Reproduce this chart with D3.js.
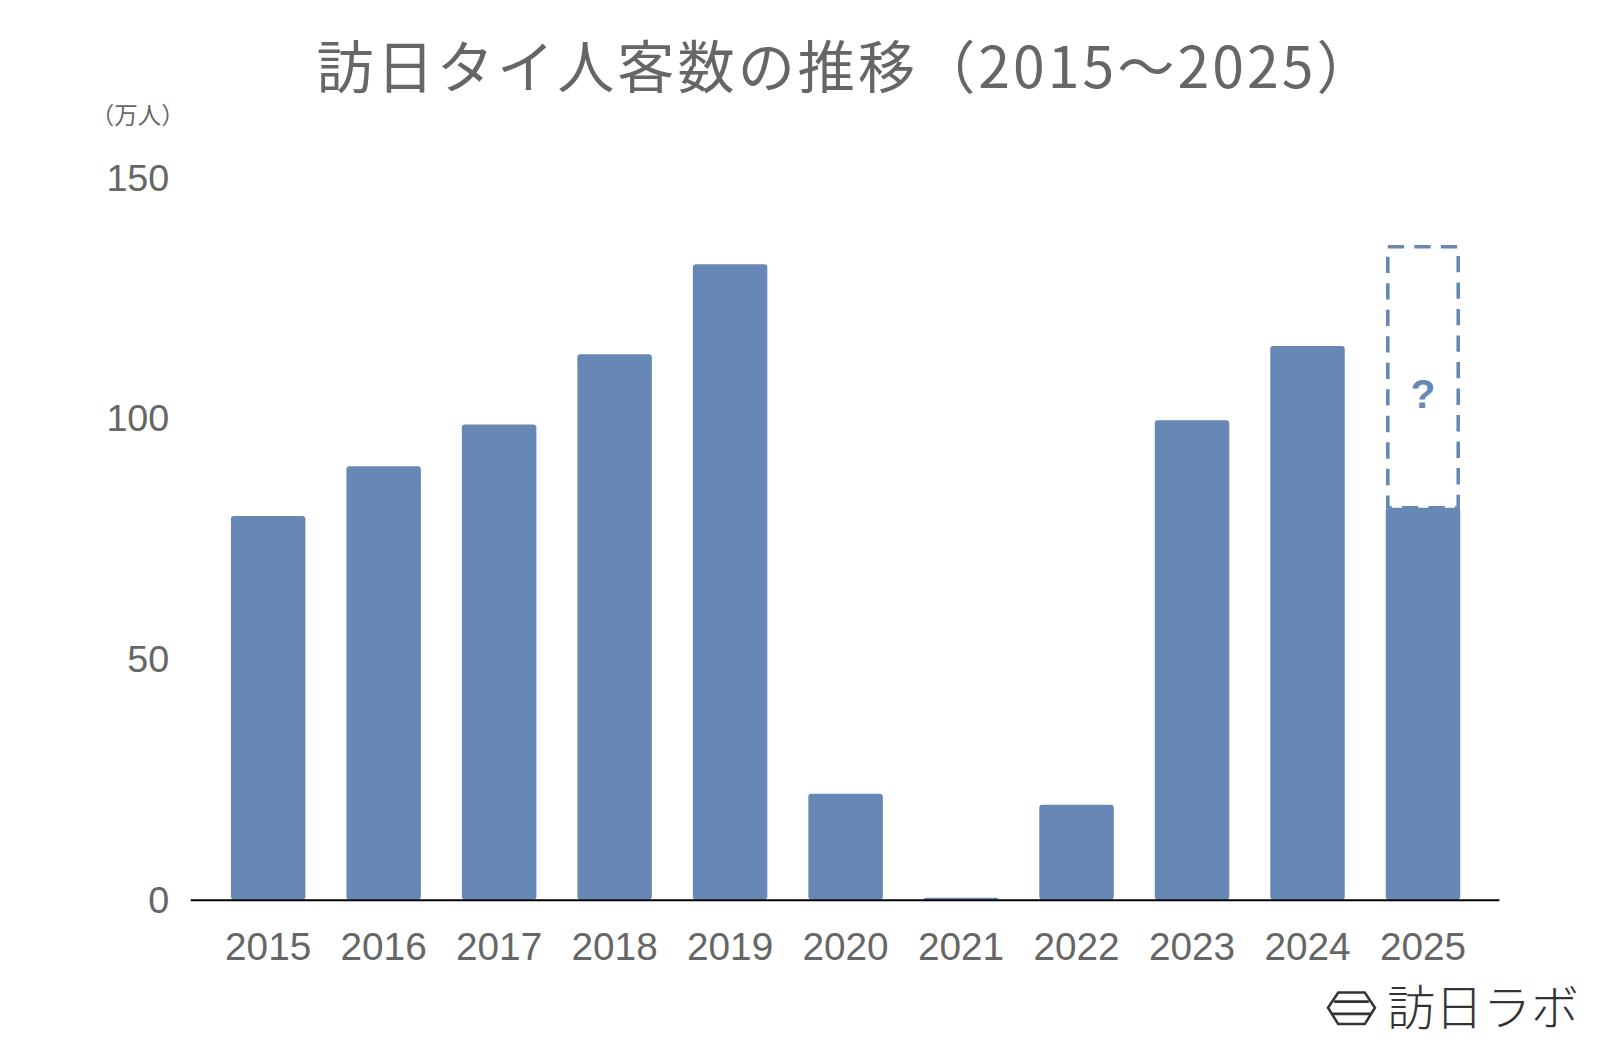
<!DOCTYPE html>
<html><head><meta charset="utf-8">
<script src="https://cdn.jsdelivr.net/npm/d3@7"></script>
<style>body{margin:0;background:#fff}svg{display:block;font-family:"Noto Sans CJK JP","Noto Sans",sans-serif}</style>
</head><body><svg width="1600" height="1046"></svg>
<script>
const years = ["2015","2016","2017","2018","2019","2020","2021","2022","2023","2024","2025"];
const visitors = [79.7, 90.0, 98.7, 113.3, 132.0, 22.0, 0.4, 19.7, 99.6, 115.0, 81.4];
const forecast2025 = 135.6;
const yTicks = [0, 50, 100, 150];

const svg = d3.select("svg").append("g").attr("transform", "scale(1.02)");
const barColor = "#6787b4";
const numFont = '"Liberation Sans", Arial, sans-serif';

const x = d3.scaleBand().domain(years).range([206, 1452]).paddingInner(0.355).paddingOuter(0.18);
const y = d3.scaleLinear().domain([0, 150]).range([882, 174]);

// title
svg.append("text").attr("x", 830).attr("y", 86).attr("text-anchor", "middle")
  .attr("font-size", 56).attr("letter-spacing", 3).attr("fill", "#666").text("訪日タイ人客数の推移（2015〜2025）");
svg.append("text").attr("x", 135).attr("y", 122).attr("text-anchor", "middle")
  .attr("font-size", 23).attr("fill", "#666").text("（万人）");

// y tick labels
svg.selectAll(".yt").data(yTicks).enter().append("text")
  .attr("x", 166).attr("y", d => y(d)).attr("dy", "0.35em").attr("text-anchor", "end")
  .attr("font-size", 37).attr("fill", "#666").attr("font-family", numFont).text(d => d);

// bars
svg.selectAll(".bar").data(years).enter().append("rect")
  .attr("x", d => x(d)).attr("width", x.bandwidth())
  .attr("y", (d, i) => y(visitors[i])).attr("height", (d, i) => y(0) - y(visitors[i]))
  .attr("rx", 3).attr("fill", barColor);

// 2025 forecast dashed box
const fx = x("2025");
svg.append("rect").attr("x", fx + 2).attr("width", x.bandwidth() - 4)
  .attr("y", y(forecast2025)).attr("height", y(visitors[10]) - y(forecast2025))
  .attr("fill", "none").attr("stroke", barColor).attr("stroke-width", 3.5)
  .attr("stroke-dasharray", "16 10");
svg.append("text").attr("x", fx + x.bandwidth() / 2).attr("y", 400).attr("text-anchor", "middle")
  .attr("font-size", 40).attr("font-weight", "bold").attr("font-family", numFont).attr("fill", barColor).text("?");

// x axis
svg.append("line").attr("x1", 187).attr("x2", 1470).attr("y1", 882.5).attr("y2", 882.5)
  .attr("stroke", "#000").attr("stroke-width", 2);
svg.selectAll(".xt").data(years).enter().append("text")
  .attr("x", d => x(d) + x.bandwidth() / 2).attr("y", 941).attr("text-anchor", "middle")
  .attr("font-size", 38).attr("fill", "#666").attr("font-family", numFont).text(d => d);

// logo
const lg = svg.append("g").attr("transform", "translate(1300,970)").attr("fill", "none").attr("stroke", "#333").attr("stroke-width", 2.5);
lg.append("path").attr("d", "M2,18 L12,3 L38,3 L48,18 L38,34 L12,34 Z");
lg.append("path").attr("d", "M8,12 L42,12 M6,24 L44,24");
svg.append("text").attr("x", 1360).attr("y", 1005).attr("font-size", 47).attr("fill", "#333")
  .attr("font-weight", 300).text("訪日ラボ");
</script></body></html>
